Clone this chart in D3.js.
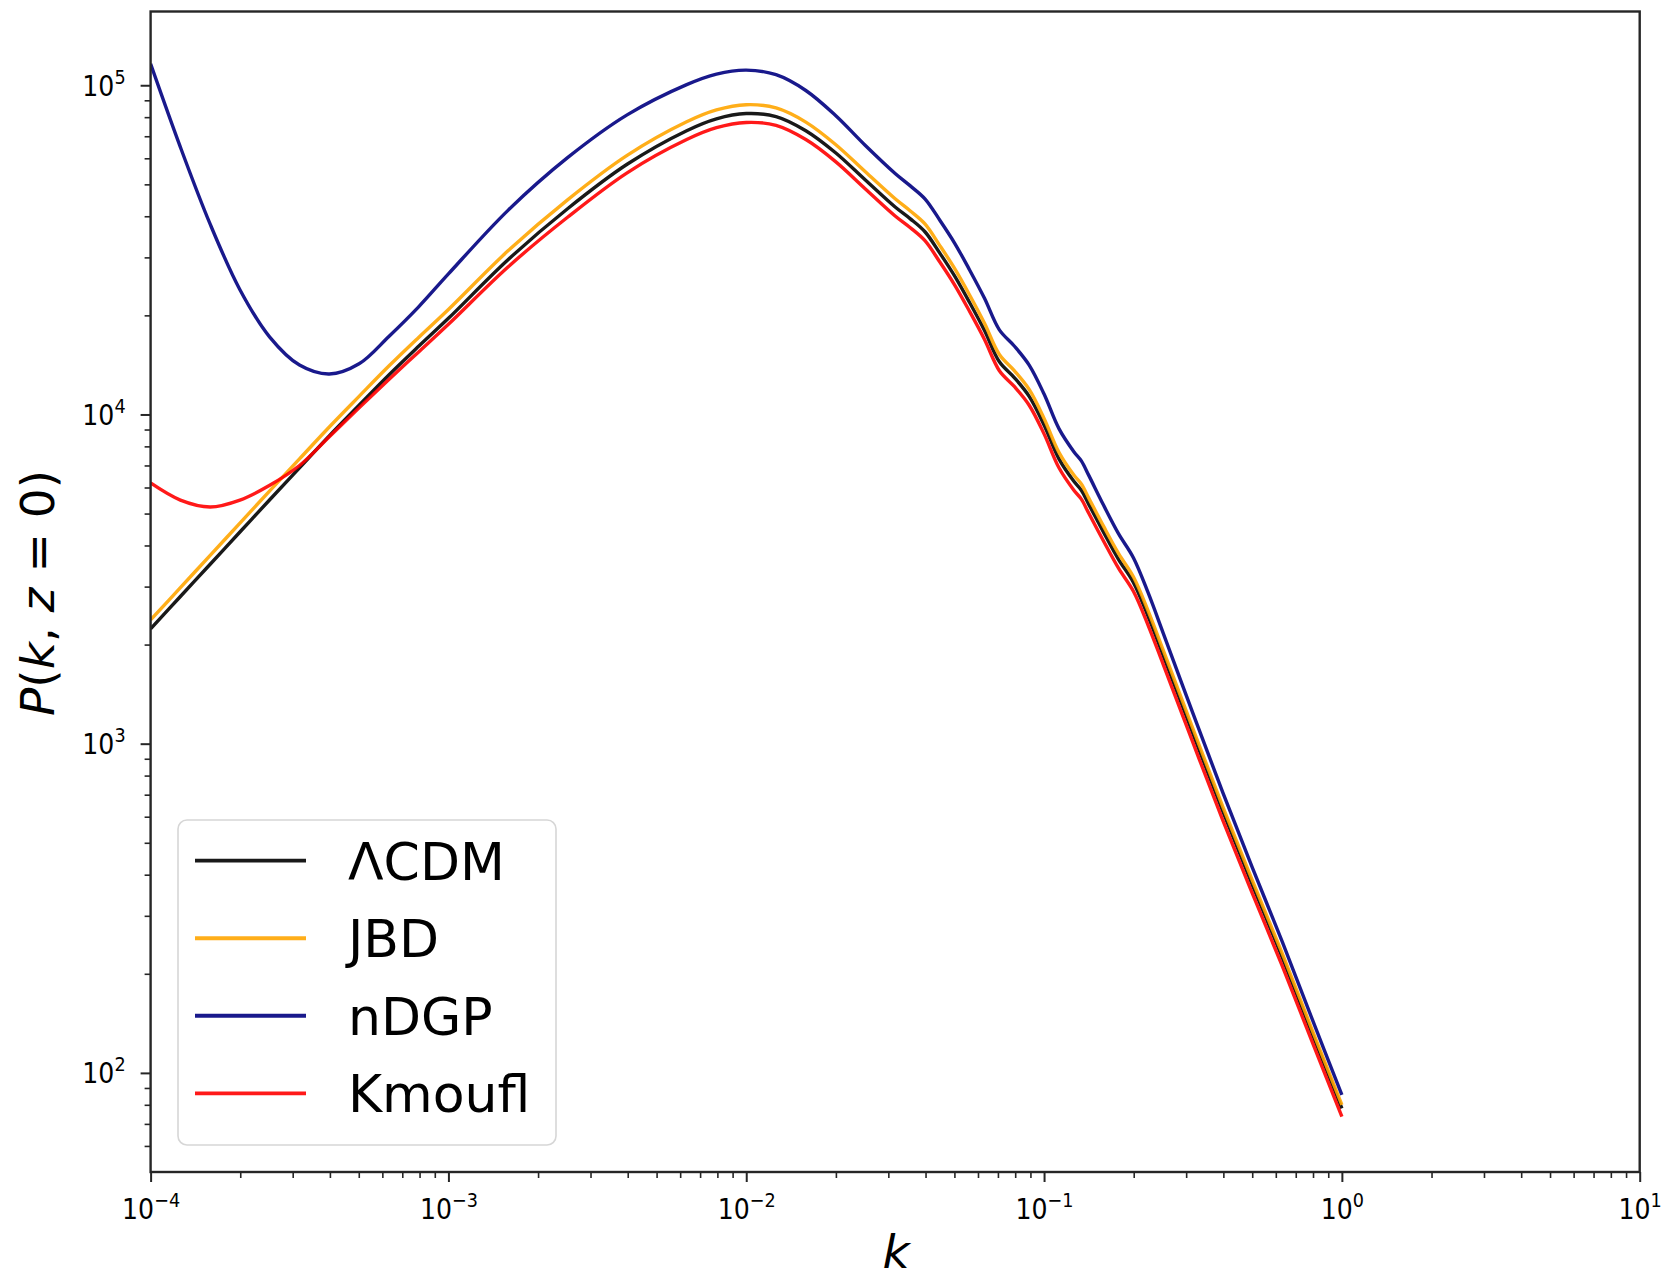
<!DOCTYPE html>
<html>
<head>
<meta charset="utf-8">
<script src="https://cdn.jsdelivr.net/npm/d3@7"></script>
<style>
  html, body { margin: 0; padding: 0; background: #ffffff; }
  svg { display: block; }
  text { font-family: "DejaVu Sans", sans-serif; fill: #000; }
</style>
</head>
<body>
<svg id="chart" width="1663" height="1282"></svg>
<script>
// Wavenumbers k (1/Mpc) at which the power spectra are sampled
const kValues = [1.0e-4, 1.259e-4, 1.585e-4, 1.995e-4, 2.512e-4, 3.162e-4, 3.981e-4, 5.012e-4,
  6.310e-4, 7.943e-4, 1.0e-3, 1.585e-3, 2.512e-3, 3.981e-3, 6.310e-3, 7.943e-3, 1.0e-2,
  1.259e-2, 1.585e-2, 1.995e-2, 2.512e-2, 3.162e-2, 3.548e-2, 3.981e-2, 4.467e-2, 5.012e-2,
  5.623e-2, 6.310e-2, 7.079e-2, 7.943e-2, 8.913e-2, 0.1, 0.1122, 0.1259, 0.1334, 0.1413,
  0.1585, 0.1778, 0.1995, 0.2239, 0.2512, 0.3162, 0.3981, 0.5012, 0.6310, 0.7943, 1.0];

// P(k, z=0) for each model
const pLCDM = [2234, 2799, 3508, 4395, 5508, 6887, 8610, 10666, 13183, 16106, 19588, 29512,
  42170, 57544, 72778, 79068, 82035, 80353, 72778, 62373, 51523, 42658, 39355, 35892, 30903,
  26303, 21878, 17989, 14454, 12942, 11350, 9290, 7328, 6266, 5888, 5333, 4385, 3631, 3090,
  2427, 1854, 1072, 623.7, 371.5, 223.9, 131.8, 77.98];
const pJBD = [2377, 2978, 3733, 4677, 5861, 7328, 9162, 11350, 14028, 17138, 20844, 31404,
  44873, 61233, 77443, 84136, 87294, 85311, 77268, 66072, 54578, 45188, 41590, 37931, 32584,
  27734, 23068, 18924, 15206, 13583, 11912, 9728, 7673, 6546, 6151, 5571, 4570, 3785, 3213,
  2524, 1924, 1110, 644.2, 382.8, 230.2, 135.2, 79.98];
const pNDGP = [116145, 64863, 37844, 23933, 17179, 14125, 13274, 14256, 17258, 21232, 26730,
  41687, 60256, 81283, 100462, 108143, 111173, 107647, 96383, 80910, 65615, 53951, 49545,
  45186, 38905, 33113, 27479, 22542, 18072, 16144, 14125, 11535, 9057, 7709, 7228, 6531,
  5297, 4345, 3673, 2864, 2168, 1236, 711.2, 418.8, 250.0, 145.9, 85.70];
const pKmoufl = [6194, 5495, 5236, 5495, 6095, 6998, 8551, 10471, 12764, 15488, 18793, 28054,
  39719, 54200, 68390, 74300, 77088, 75508, 68390, 58612, 48416, 40086, 36982, 33728, 29040,
  24717, 20559, 16904, 13582, 12162, 10666, 8730, 6886, 5888, 5533, 5011, 4121, 3412, 2904,
  2281, 1742, 1007, 586.1, 349.9, 210.9, 124.4, 73.62];

const seriesNames = ["ΛCDM", "JBD", "nDGP", "Kmoufl"];
const seriesValues = [pLCDM, pJBD, pNDGP, pKmoufl];
const seriesColors = ["#000000", "#ffa500", "#000080", "#ff0000"];

// Decade exponents used for the major tick labels
const xTickExponents = [-4, -3, -2, -1, 0, 1];
const yTickExponents = [2, 3, 4, 5];

const plot = { left: 150.6, right: 1639.7, top: 11.5, bottom: 1172 };
const svg = d3.select("#chart");

const x = d3.scaleLog().domain([1e-4, 10]).range([plot.left, plot.right]);
const y = d3.scaleLog().domain([50, 1.675e5]).range([plot.bottom, plot.top]);

const minorsBetween = (lo, hi, inDomain) => {
  const out = [];
  for (let e = lo; e < hi; e++) {
    for (let m = 2; m <= 9; m++) {
      const v = m * Math.pow(10, e);
      if (inDomain(v)) out.push(v);
    }
  }
  return out;
};
const xDom = x.domain(), yDom = y.domain();
const xMinor = minorsBetween(-4, 1, v => v > xDom[0] && v < xDom[1]);
const yMinor = minorsBetween(1, 6, v => v > yDom[0] * 1.001 && v < yDom[1]);

const axisColor = "#262626";
const labelScaleX = 0.9;

// Minor ticks
svg.append("g")
  .attr("transform", `translate(0,${plot.bottom})`)
  .call(d3.axisBottom(x).tickValues(xMinor).tickSize(6).tickSizeOuter(0).tickFormat(""))
  .call(g => g.select(".domain").remove())
  .call(g => g.selectAll("line").attr("stroke", axisColor).attr("stroke-width", 1.6));
svg.append("g")
  .attr("transform", `translate(${plot.left},0)`)
  .call(d3.axisLeft(y).tickValues(yMinor).tickSize(6).tickSizeOuter(0).tickFormat(""))
  .call(g => g.select(".domain").remove())
  .call(g => g.selectAll("line").attr("stroke", axisColor).attr("stroke-width", 1.6));

// Major ticks with 10^n labels
const supLabel = (textSel, exp) => {
  textSel.text(null);
  textSel.append("tspan").text("10");
  textSel.append("tspan")
    .attr("font-size", "0.7em")
    .attr("dy", "-0.62em")
    .text(exp < 0 ? "\u2212" + Math.abs(exp) : String(exp));
};

const xMajor = xTickExponents.map(e => Math.pow(10, e));
const xAxisG = svg.append("g")
  .attr("transform", `translate(0,${plot.bottom})`)
  .call(d3.axisBottom(x).tickValues(xMajor).tickSize(10).tickSizeOuter(0).tickFormat(""))
  .call(g => g.select(".domain").remove())
  .call(g => g.selectAll("line").attr("stroke", axisColor).attr("stroke-width", 2));
xAxisG.selectAll(".tick text")
  .attr("y", 47).attr("dy", null)
  .attr("font-size", 28)
  .attr("font-family", "DejaVu Sans")
  .attr("fill", "#000")
  .attr("transform", `scale(${labelScaleX},1)`)
  .each(function (d, i) { supLabel(d3.select(this), xTickExponents[i]); });

const yMajor = yTickExponents.map(e => Math.pow(10, e));
const yAxisG = svg.append("g")
  .attr("transform", `translate(${plot.left},0)`)
  .call(d3.axisLeft(y).tickValues(yMajor).tickSize(10).tickSizeOuter(0).tickFormat(""))
  .call(g => g.select(".domain").remove())
  .call(g => g.selectAll("line").attr("stroke", axisColor).attr("stroke-width", 2));
yAxisG.selectAll(".tick text")
  .attr("x", -25 / labelScaleX).attr("dy", "0.36em")
  .attr("font-size", 28)
  .attr("font-family", "DejaVu Sans")
  .attr("fill", "#000")
  .attr("text-anchor", "end")
  .attr("transform", `scale(${labelScaleX},1)`)
  .each(function (d, i) { supLabel(d3.select(this), yTickExponents[i]); });

// Curves
svg.append("clipPath").attr("id", "plotClip")
  .append("rect")
  .attr("x", plot.left).attr("y", plot.top)
  .attr("width", plot.right - plot.left).attr("height", plot.bottom - plot.top);

const line = d3.line()
  .x(d => x(d[0]))
  .y(d => y(d[1]))
  .curve(d3.curveCatmullRom.alpha(0.5));

const curves = svg.append("g").attr("clip-path", "url(#plotClip)");
seriesValues.forEach((vals, i) => {
  curves.append("path")
    .datum(kValues.map((k, j) => [k, vals[j]]))
    .attr("fill", "none")
    .attr("stroke", seriesColors[i])
    .attr("stroke-opacity", 0.9)
    .attr("stroke-width", 3.4)
    .attr("stroke-linejoin", "round")
    .attr("stroke-linecap", "butt")
    .attr("d", line);
});

// Frame
svg.append("rect")
  .attr("x", plot.left).attr("y", plot.top)
  .attr("width", plot.right - plot.left).attr("height", plot.bottom - plot.top)
  .attr("fill", "none").attr("stroke", axisColor).attr("stroke-width", 2.4);

// Axis labels
const xLabel = svg.append("text")
  .attr("x", 896).attr("y", 1268)
  .attr("text-anchor", "middle")
  .attr("font-size", 47);
xLabel.append("tspan").attr("font-style", "italic").text("k");

const yLabel = svg.append("text")
  .attr("transform", "translate(54,593) rotate(-90)")
  .attr("text-anchor", "middle")
  .attr("font-size", 47);
yLabel.append("tspan").attr("font-style", "italic").text("P");
yLabel.append("tspan").text("(");
yLabel.append("tspan").attr("font-style", "italic").text("k");
yLabel.append("tspan").text(", ");
yLabel.append("tspan").attr("font-style", "italic").text("z");
yLabel.append("tspan").text(" = 0)");

// Legend
const legend = svg.append("g");
legend.append("rect")
  .attr("x", 178).attr("y", 820)
  .attr("width", 378).attr("height", 325)
  .attr("rx", 9).attr("ry", 9)
  .attr("fill", "#ffffff").attr("fill-opacity", 0.8)
  .attr("stroke", "#d6d6d6").attr("stroke-width", 1.6);
const legendRowY = d3.scaleLinear().domain([0, 3]).range([860.7, 1093.3]);
seriesNames.forEach((name, i) => {
  const cy = legendRowY(i);
  legend.append("line")
    .attr("x1", 195).attr("x2", 306)
    .attr("y1", cy).attr("y2", cy)
    .attr("stroke", seriesColors[i])
    .attr("stroke-opacity", 0.9)
    .attr("stroke-width", 3.8);
  legend.append("text")
    .attr("x", 348).attr("y", cy + 19)
    .attr("font-size", 52)
    .text(name);
});
</script>
</body>
</html>
